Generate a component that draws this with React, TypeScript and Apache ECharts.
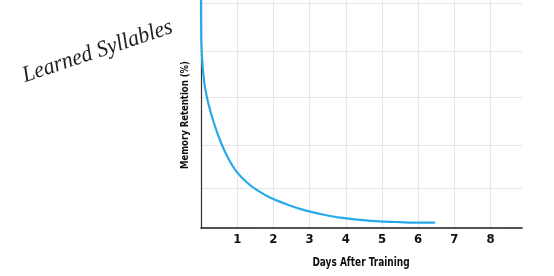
import React, { useEffect, useRef } from "react";
import * as echarts from "echarts";

const curveDays = [0, 0.01, 0.04, 0.1, 0.2, 0.35, 0.55, 0.77, 0.97, 1.27, 1.55, 1.92, 2.47, 2.93, 3.4, 3.85, 4.4, 4.95, 5.5, 6.0, 6.47];
const curveRetention = [101.3, 82, 73, 63.5, 55.5, 47, 38, 30.4, 25.3, 20.2, 16.8, 13.4, 9.9, 7.6, 5.9, 4.6, 3.6, 2.9, 2.6, 2.4, 2.4];
const xTicks = [1, 2, 3, 4, 5, 6, 7, 8];
const yGridValues = [17.8, 36.9, 58.2, 78.7, 100];

const COND = "'DejaVu Sans Condensed', 'Liberation Sans Narrow', sans-serif";

export default function App() {
  const ref = useRef<HTMLDivElement>(null);
  useEffect(() => {
    if (!ref.current) return;
    const chart = echarts.init(ref.current, null, { renderer: "svg" });
    chart.setOption({
      animation: false,
      grid: { left: 201, right: 32, top: 0, bottom: 48 },
      xAxis: {
        type: "value",
        min: 0,
        max: 8.87,
        interval: 1,
        axisLine: { show: true, lineStyle: { color: "#1a1a1a", width: 1.5 } },
        axisTick: { show: false, customValues: xTicks },
        axisLabel: {
          customValues: xTicks,
          margin: 4,
          fontFamily: COND,
          fontWeight: "bold",
          fontSize: 13,
          color: "#111",
        },
        splitLine: { show: true, lineStyle: { color: "#e6e6e6", width: 1.2 } },
      },
      yAxis: {
        type: "value",
        min: 0,
        max: 101.3,
        axisLine: { show: true, lineStyle: { color: "#333", width: 1.2 } },
        axisTick: { show: false, customValues: yGridValues },
        axisLabel: { show: false },
        splitLine: { show: true, lineStyle: { color: "#e6e6e6", width: 1.2 } },
      },
      series: [
        {
          type: "line",
          data: curveDays.map((d, i) => [d, curveRetention[i]]),
          smooth: 0.3,
          showSymbol: false,
          clip: false,
          lineStyle: { color: "#27aae9", width: 2.2 },
        },
      ],
      graphic: [
        {
          type: "text",
          x: 361,
          y: 262,
          scaleX: 0.8,
          style: {
            text: "Days After Training",
            fontFamily: COND,
            fontWeight: "bold",
            fontSize: 12.5,
            fill: "#111",
            align: "center",
            verticalAlign: "middle",
          },
        },
        {
          type: "text",
          x: 184,
          y: 115,
          rotation: Math.PI / 2,
          scaleX: 0.86,
          style: {
            text: "Memory Retention (%)",
            fontFamily: COND,
            fontWeight: "bold",
            fontSize: 11,
            fill: "#111",
            align: "center",
            verticalAlign: "middle",
          },
        },
        {
          type: "text",
          x: 97,
          y: 50,
          rotation: (18.5 * Math.PI) / 180,
          scaleX: 0.95,
          style: {
            text: "Learned Syllables",
            fontFamily: "'Liberation Serif', serif",
            fontStyle: "italic",
            fontSize: 23,
            fill: "#222",
            align: "center",
            verticalAlign: "middle",
          },
        },
      ],
    });
    return () => chart.dispose();
  }, []);
  return (
    <div
      ref={ref}
      style={{ position: "fixed", left: 0, top: 0, width: 554, height: 276 }}
    />
  );
}
